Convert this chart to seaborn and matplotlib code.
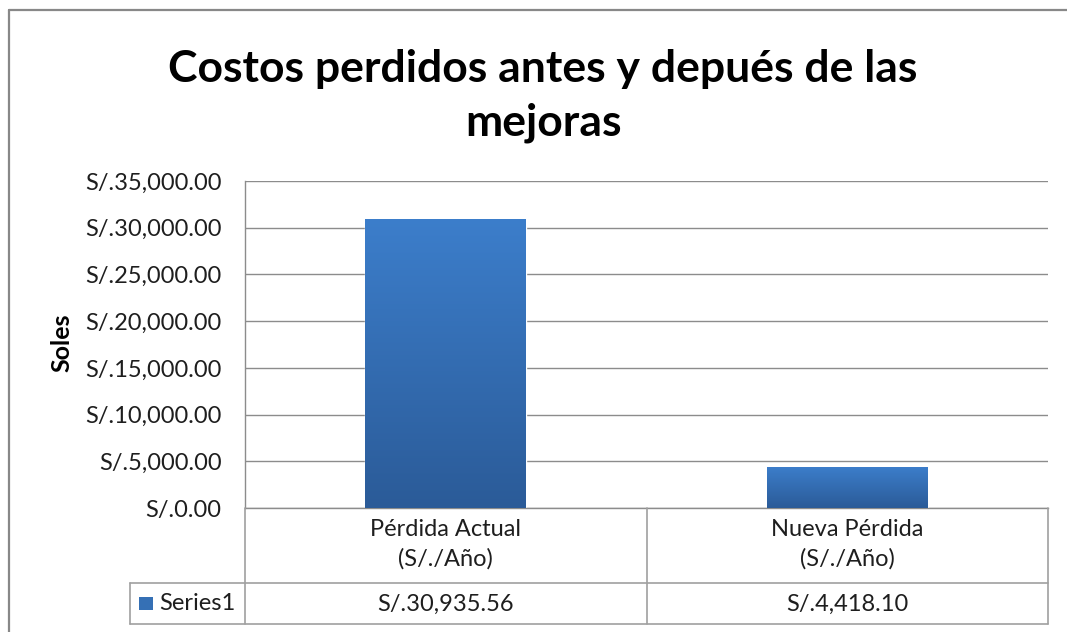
import numpy as np
import pandas as pd
import seaborn as sns
import matplotlib.pyplot as plt
from matplotlib.lines import Line2D
from matplotlib.patches import Rectangle
from matplotlib.colors import LinearSegmentedColormap
from matplotlib import transforms

# Chart data
categories = ["Pérdida Actual\n(S/./Año)", "Nueva Pérdida\n(S/./Año)"]
values = [30935.56, 4418.10]
series_name = "Series1"
y_ticks = [0, 5000, 10000, 15000, 20000, 25000, 30000, 35000]
title = "Costos perdidos antes y depués de las\nmejoras"
y_label = "Soles"


def money(v):
    return f"S/.{v:,.2f}"


sns.set_theme(style="white")
plt.rcParams["font.family"] = ["Lato", "DejaVu Sans"]

W, H = 1067, 632
fig = plt.figure(figsize=(W / 100, H / 100), dpi=100)
fig.patch.set_facecolor("white")


def fx(px):
    return px / W


def fy(py):
    return 1 - py / H


GRID = "#8c8c8c"
TABLE = "#a0a0a0"
TEXT = "#1e1e1e"
FS = 17

ax = fig.add_axes([fx(245), fy(508), fx(1048) - fx(245), fy(181) - fy(508)])
df = pd.DataFrame({"category": categories, "value": values})
sns.barplot(data=df, x="category", y="value", ax=ax, width=0.4,
            color="#3570b5", saturation=1, zorder=2)
ax.set_xlim(-0.5, 1.5)
ax.set_ylim(0, 35000)

# vertical blue gradient inside each bar
cmap = LinearSegmentedColormap.from_list("bar", ["#2b5b98", "#3c7ecb"])
grad = np.linspace(0, 1, 256).reshape(-1, 1)
for patch in list(ax.patches):
    x0, y0 = patch.get_x(), patch.get_y()
    w, h = patch.get_width(), patch.get_height()
    im = ax.imshow(grad, cmap=cmap, origin="lower", aspect="auto",
                   extent=(x0, x0 + w, y0, y0 + h), zorder=3)
    im.set_clip_path(patch)
ax.set_xlim(-0.5, 1.5)
ax.set_ylim(0, 35000)

ax.set_yticks(y_ticks)
ax.set_yticklabels([money(v) for v in y_ticks], fontsize=FS, color=TEXT)
ax.tick_params(axis="y", length=0, pad=17)
ax.set_xticks([])
ax.set_xlabel("")
ax.set_ylabel("")
ax.yaxis.grid(True, color=GRID, lw=1)
ax.set_axisbelow(True)
for side in ["top", "right"]:
    ax.spines[side].set_visible(False)
for side in ["left", "bottom"]:
    ax.spines[side].set_color(GRID)
    ax.spines[side].set_linewidth(1)

# data table below the axis
blend = transforms.blended_transform_factory(ax.transData, fig.transFigure)
for i, (cat, val) in enumerate(zip(categories, values)):
    ax.text(i, fy(544), cat, transform=blend, ha="center", va="center",
            fontsize=FS, color=TEXT, linespacing=1.45)
    ax.text(i, fy(604), money(val), transform=blend, ha="center", va="center",
            fontsize=FS, color=TEXT)

table_lines = [
    ((245, 245), (508, 624)),
    ((647, 647), (508, 624)),
    ((1048, 1048), (508, 624)),
    ((130, 1048), (583, 583)),
    ((130, 1048), (624, 624)),
    ((130, 130), (583, 624)),
]
for xs, ys in table_lines:
    fig.add_artist(Line2D([fx(x) for x in xs], [fy(y) for y in ys],
                          color=TABLE, lw=1.2))

fig.add_artist(Rectangle((fx(139), fy(610)), fx(153) - fx(139), fy(597) - fy(610),
                         transform=fig.transFigure, facecolor="#3570b5",
                         edgecolor="none"))
fig.text(fx(159), fy(604), series_name, ha="left", va="center",
         fontsize=FS, color=TEXT)

# outer chart frame
fig.add_artist(Line2D([fx(9), fx(9)], [fy(10), 0], color="#888888", lw=1.6))
fig.add_artist(Line2D([fx(9), 1], [fy(10), fy(10)], color="#888888", lw=1.6))

fig.text(fx(62), fy(343), y_label, rotation=90, ha="center", va="center",
         fontsize=18, fontweight="bold", color="black")
fig.text(fx(543), fy(96), title, ha="center", va="center", fontsize=32,
         fontweight="bold", color="black", linespacing=1.38)

fig.savefig("out.png", dpi=100, facecolor="white")
